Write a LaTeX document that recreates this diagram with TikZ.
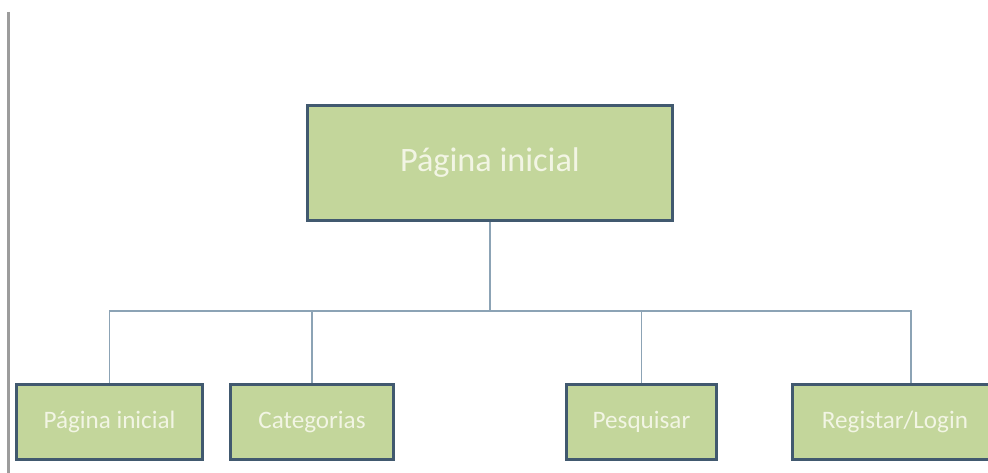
\documentclass[tikz,border=0pt]{standalone}
\usepackage{fontspec}
\setmainfont{Carlito}
\usetikzlibrary{positioning, calc}

\definecolor{boxfill}{HTML}{C3D69B}
\definecolor{boxline}{HTML}{41596F}
\definecolor{boxtext}{HTML}{F2F5E4}
\definecolor{wire}{HTML}{8CA3B5}
\definecolor{margin}{HTML}{9C9C9C}

\begin{document}
\begin{tikzpicture}[
    x=0.02cm, y=-0.02cm,
    page/.style={rectangle, draw=boxline, line width=1.7pt, fill=boxfill,
                 text=boxtext, inner sep=0pt},
    toppage/.style={page, minimum width=7.32cm, minimum height=2.32cm, font=\fontsize{19.5}{22}\selectfont},
    subpage/.style={page, minimum height=1.5cm, font=\fontsize{14.3}{17}\selectfont},
    wire/.style={draw=wire, line width=0.7pt}
]
    \useasboundingbox (0,0) rectangle (988,473);

    % Left margin line
    \draw[margin, line width=1.2pt] (8.5,12) -- (8.5,473);

    % Main page
    \node[toppage] (home) at (490,163) {Página inicial};

    % Sub pages
    \node[subpage, minimum width=3.74cm] (inicio) at (109.5,422) {Página inicial};
    \node[subpage, minimum width=3.28cm] (categ) at (312,422) {Categorias};
    \node[subpage, minimum width=3.02cm] (pesq) at (641.5,422) {Pesquisar};
    \node[subpage, minimum width=4.12cm] (login) at (895,422) {Registar/Login};

    % Bus
    \coordinate (bus) at (490,311);

    % Connectors
    \draw[wire] (home.south) -- (bus);
    \draw[wire] (bus) -| (inicio.north);
    \draw[wire] (bus) -| (categ.north);
    \draw[wire] (bus) -| (pesq.north);
    \draw[wire] (bus) -| ($(login.north)+(16,0)$);

\end{tikzpicture}
\end{document}
